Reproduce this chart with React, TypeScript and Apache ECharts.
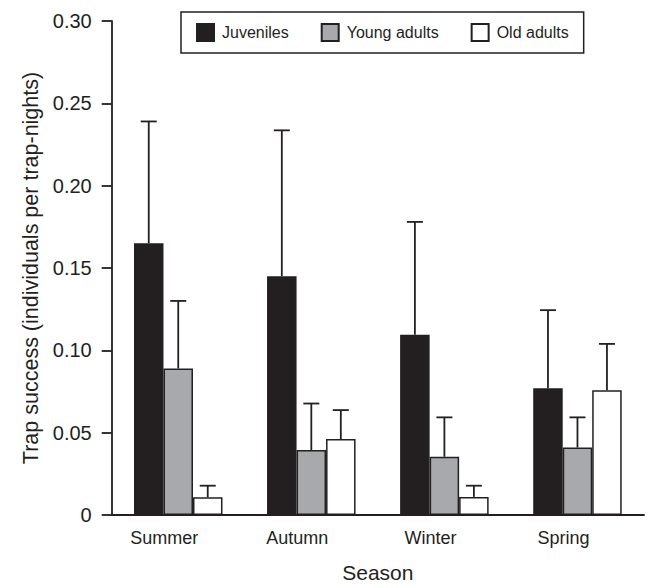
import React, { useEffect, useRef } from "react";
import * as echarts from "echarts";

const seasons = ["Summer", "Autumn", "Winter", "Spring"];
const seriesNames = ["Juveniles", "Young adults", "Old adults"];
const juvenilesMean = [0.165, 0.145, 0.1095, 0.077];
const juvenilesUpper = [0.239, 0.2336, 0.178, 0.1244];
const youngMean = [0.089, 0.0394, 0.0354, 0.041];
const youngUpper = [0.13, 0.0677, 0.0593, 0.0593];
const oldMean = [0.0108, 0.0461, 0.011, 0.0757];
const oldUpper = [0.0178, 0.0637, 0.0178, 0.1039];
const yTicks = [0, 0.05, 0.1, 0.15, 0.2, 0.25, 0.3];

const INK = "#231f20";
const fills = [INK, "#a7a9ac", "#ffffff"];
const CAT_GAP = 0.335;

export default function App() {
  const ref = useRef<HTMLDivElement>(null);
  useEffect(() => {
    if (!ref.current) return;
    const chart = echarts.init(ref.current, null, { renderer: "svg" });
    const means = [juvenilesMean, youngMean, oldMean];
    const uppers = [juvenilesUpper, youngUpper, oldUpper];

    const barSeries = seriesNames.map((name, i) => ({
      name,
      type: "bar",
      data: means[i],
      barGap: "0%",
      barCategoryGap: CAT_GAP * 100 + "%",
      itemStyle: { color: fills[i], borderColor: INK, borderWidth: 1.5 },
      emphasis: { disabled: true },
      z: 3,
    }));

    const errSeries = seriesNames.map((name, i) => ({
      name: name + " SE",
      type: "custom",
      data: seasons.map((_, k) => [k, means[i][k], uppers[i][k]]),
      z: 2,
      renderItem: (params: any, api: any) => {
        const k = api.value(0);
        const base = api.coord([k, api.value(1)]);
        const top = api.coord([k, api.value(2)]);
        const band = api.size([1, 0])[0];
        const barW = (band * (1 - CAT_GAP)) / 3;
        const cx = base[0] + (i - 1) * barW;
        const style = { stroke: INK, lineWidth: 1.8 };
        return {
          type: "group",
          children: [
            { type: "line", shape: { x1: cx, y1: base[1], x2: cx, y2: top[1] }, style },
            { type: "line", shape: { x1: cx - 8, y1: top[1], x2: cx + 8, y2: top[1] }, style },
          ],
        };
      },
    }));

    chart.setOption({
      animation: false,
      textStyle: { fontFamily: "Liberation Sans, Arial, sans-serif", color: INK },
      grid: { left: 111.7, right: 12, top: 21, bottom: 66.3, containLabel: false },
      legend: {
        data: seriesNames,
        left: 181,
        top: 12,
        itemWidth: 17,
        itemHeight: 17,
        itemGap: 32,
        icon: "rect",
        padding: [11, 15, 11, 15],
        borderColor: INK,
        borderWidth: 1.5,
        textStyle: { fontSize: 16, color: INK, padding: [0, 0, 0, 3] },
        selectedMode: false,
      },
      xAxis: {
        type: "category",
        data: seasons,
        name: "Season",
        nameLocation: "middle",
        nameGap: 47,
        nameTextStyle: { fontSize: 21, color: INK },
        axisLine: { lineStyle: { color: INK, width: 1.8 } },
        axisTick: { length: 10, lineStyle: { color: INK, width: 1.8 } },
        axisLabel: { interval: 0, fontSize: 18, color: INK, margin: 14, padding: [0, 28, 0, 0] },
      },
      yAxis: {
        type: "value",
        min: 0,
        max: 0.3,
        interval: 0.05,
        name: "Trap success (individuals per trap-nights)",
        nameLocation: "middle",
        nameGap: 70,
        nameTextStyle: { fontSize: 21.5, color: INK },
        splitLine: { show: false },
        axisLine: { show: true, lineStyle: { color: INK, width: 1.8 } },
        axisTick: { show: true, length: 10, lineStyle: { color: INK, width: 1.8 } },
        axisLabel: {
          fontSize: 20,
          color: INK,
          margin: 20,
          formatter: (v: number) => {
            const t = yTicks.find((y) => Math.abs(y - v) < 1e-9);
            if (t === undefined) return "";
            return t === 0 ? "0" : t.toFixed(2);
          },
        },
      },
      series: [...errSeries, ...barSeries],
    });
    return () => chart.dispose();
  }, []);
  return <div ref={ref} style={{ width: 656, height: 588, position: "absolute", left: 0, top: 0 }} />;
}
